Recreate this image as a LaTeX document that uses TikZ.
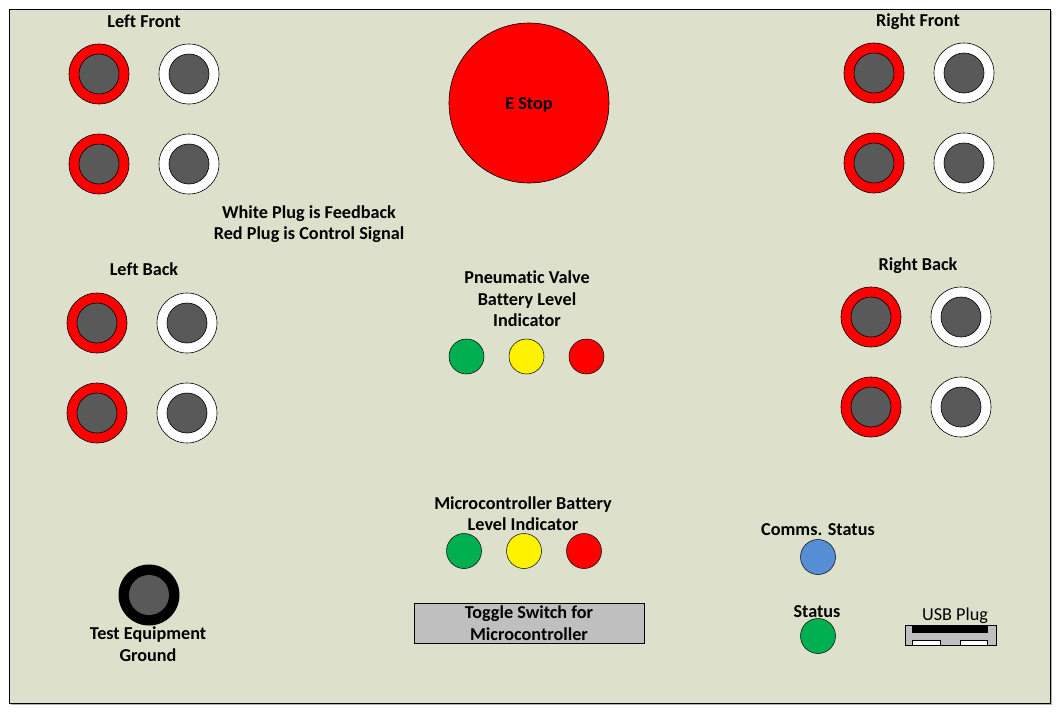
\documentclass[tikz,border=0pt]{standalone}
\usepackage{fontspec}
\setmainfont{Carlito}[Ligatures=NoCommon]
\definecolor{panel}{RGB}{221,225,204}
\definecolor{plugcore}{RGB}{89,89,89}
\definecolor{ledgreen}{RGB}{0,176,80}
\definecolor{ledblue}{RGB}{85,142,213}
\definecolor{switchgrey}{RGB}{191,191,191}
\begin{document}
\begin{tikzpicture}[x=1pt,y=-1pt,
  lbl/.style={font=\fontsize{18.2}{21.5}\selectfont\bfseries, align=center, inner sep=0pt},
  plain/.style={font=\fontsize{18.2}{21.5}\selectfont, align=center, inner sep=0pt},
  ring/.style={circle, draw=black, line width=0.6pt, minimum size=60pt, inner sep=0pt},
  redring/.style={ring, fill=red},
  whitering/.style={ring, fill=white},
  blackring/.style={circle, fill=black, minimum size=61pt, inner sep=0pt},
  core/.style={circle, draw=black, line width=0.6pt, fill=plugcore, minimum size=40pt, inner sep=0pt},
  led/.style={circle, draw=black, line width=0.5pt, minimum size=35pt, inner sep=0pt},
]
\useasboundingbox (0,0) rectangle (1061,715);
% panel
\fill[gray!60] (11,11) rectangle (1052,705);
\draw[black, line width=0.8pt, fill=panel] (9,9) rectangle (1050,703);

% Left Front
\node[lbl] (lfl) at (144,21) {Left Front};
\node[redring] (lf1) at (99,74) {}; \node[core] at (lf1) {};
\node[whitering] (lf2) at (189,74) {}; \node[core] at (lf2) {};
\node[redring] (lf3) at (99,164) {}; \node[core] at (lf3) {};
\node[whitering] (lf4) at (189,164) {}; \node[core] at (lf4) {};

% legend
\node[lbl] (legend) at (309,224) {White Plug is Feedback\\Red Plug is Control Signal};

% Left Back
\node[lbl] (lbl) at (144,269) {Left Back};
\node[redring] (lb1) at (97,323) {}; \node[core] at (lb1) {};
\node[whitering] (lb2) at (187,323) {}; \node[core] at (lb2) {};
\node[redring] (lb3) at (97,413) {}; \node[core] at (lb3) {};
\node[whitering] (lb4) at (187,413) {}; \node[core] at (lb4) {};

% Right Front
\node[lbl] (rfl) at (918,21.5) {Right Front};
\node[redring] (rf1) at (874,73) {}; \node[core] at (rf1) {};
\node[whitering] (rf2) at (964,73) {}; \node[core] at (rf2) {};
\node[redring] (rf3) at (874,163) {}; \node[core] at (rf3) {};
\node[whitering] (rf4) at (964,163) {}; \node[core] at (rf4) {};

% Right Back
\node[lbl] (rbl) at (918,265.5) {Right Back};
\node[redring] (rb1) at (871,317) {}; \node[core] at (rb1) {};
\node[whitering] (rb2) at (961,317) {}; \node[core] at (rb2) {};
\node[redring] (rb3) at (871,407) {}; \node[core] at (rb3) {};
\node[whitering] (rb4) at (961,407) {}; \node[core] at (rb4) {};

% E Stop
\node[circle, draw=black, line width=0.6pt, fill=red, minimum size=160pt, inner sep=0pt] (estop) at (529,103) {};
\node[lbl] (estopl) at (529,104.5) {E Stop};

% Pneumatic valve indicator
\node[lbl] (pvl) at (527,299) {Pneumat\kern0pt ic Valve\\Battery Level\\Indicator};
\node[led, fill=ledgreen] (pv1) at (466.5,356.5) {};
\node[led, fill=yellow] (pv2) at (526.5,356.5) {};
\node[led, fill=red] (pv3) at (586.5,356.5) {};

% Microcontroller indicator
\node[lbl] (mcl) at (523,513.5) {Microcontroller Battery\\Level Indicator};
\node[led, fill=ledgreen] (mc1) at (464,551) {};
\node[led, fill=yellow] (mc2) at (524,551) {};
\node[led, fill=red] (mc3) at (584,551) {};

% Toggle switch
\node[lbl, draw=black, line width=0.6pt, fill=switchgrey, minimum width=230pt, minimum height=40pt]
  (toggle) at (529,623) {Toggle Switch for\\Microcontroller};

% Test equipment ground
\node[blackring] (gnd) at (149,595) {}; \node[circle, fill=plugcore, minimum size=40pt, inner sep=0pt] at (gnd) {};
\node[lbl] (gndl) at (148,644) {Test Equipment\\Ground};

% Comms status
\node[lbl] (cml) at (818,529.5) {Comms. Status};
\node[led, fill=ledblue] (cm) at (818,557) {};
\node[lbl] (stl) at (817,611.5) {Status};
\node[led, fill=ledgreen] (st) at (818,636) {};

% USB plug
\node[plain] (usbl) at (955,615.5) {USB Plug};
\draw[black, line width=0.6pt, fill=switchgrey] (905,625) rectangle (996,645.5);
\fill[black] (911.5,625.5) rectangle (988,632.5);
\draw[black, line width=0.5pt, fill=white] (912.5,640) rectangle (940.5,645.5);
\draw[black, line width=0.5pt, fill=white] (960.5,640) rectangle (987.5,645.5);
\end{tikzpicture}
\end{document}
